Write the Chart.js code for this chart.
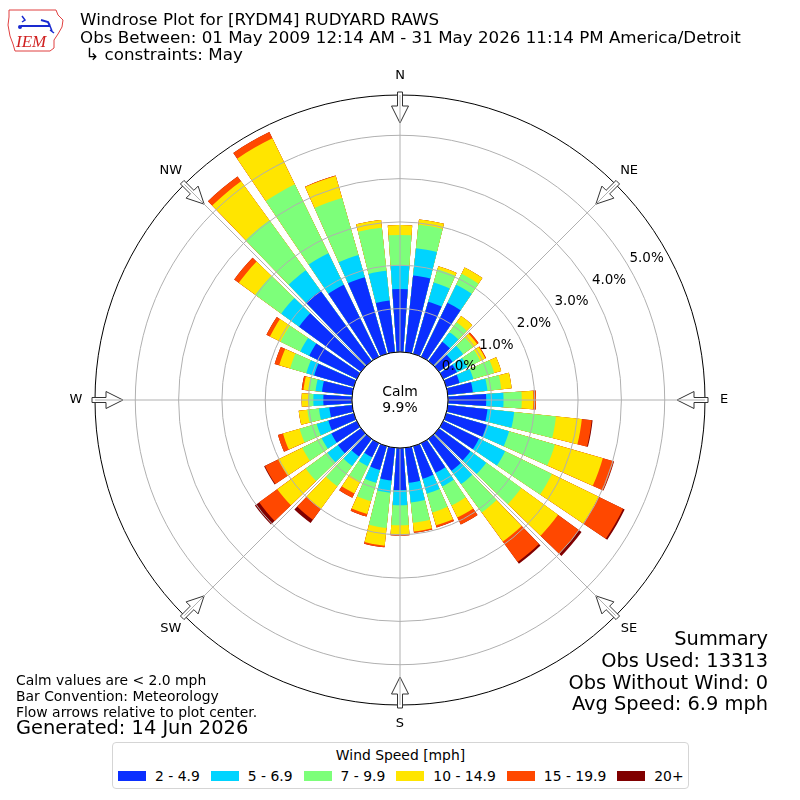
<!DOCTYPE html>
<html>
<head>
<meta charset="utf-8">
<script src="https://cdn.jsdelivr.net/npm/chart.js@4.4.1/dist/chart.umd.min.js"></script>
<style>
  html, body { margin: 0; padding: 0; background: #fff; }
  #wrap { position: relative; width: 800px; height: 800px; font-family: "DejaVu Sans", sans-serif; color: #000; overflow: hidden; }
  #c { position: absolute; left: 0; top: 0; }
  .t { position: absolute; white-space: nowrap; }
  #legend { position: absolute; left: 112px; top: 742px; width: 575px; height: 45px; border: 1px solid #d5d5d5; border-radius: 4px; background: #fff; }
  #legend .lt { text-align: center; font-size: 13.9px; line-height: 16px; margin-top: 4px; white-space: nowrap; }
  #legend .items { display: flex; flex-wrap: nowrap; align-items: center; margin-top: 5px; padding-left: 5px; font-size: 13.9px; line-height: 16px; white-space: nowrap; }
  #legend .it { display: flex; flex: 0 0 auto; align-items: center; margin-right: 11px; white-space: nowrap; }
  #legend .sw { width: 28px; height: 10px; margin-right: 9px; flex: 0 0 auto; }
</style>
</head>
<body>
<div id="wrap">
  <canvas id="c" width="800" height="800"></canvas>

  <svg class="t" style="left:6px;top:7px" width="62" height="46" viewBox="0 0 62 46">
    <path d="M3 3 L50 3 L52 8 L57 13 L56 20 L52 27 L48 33 L48 41 L44 44 L9 44 L7 37 L4 29 L2 18 L3 10 Z" fill="none" stroke="#e04040" stroke-width="1"/>
    <path d="M16 9 L19 13 L16 15" fill="none" stroke="#1a2ad0" stroke-width="1.5"/>
    <line x1="15" y1="19" x2="44" y2="19" stroke="#1a2ad0" stroke-width="2"/>
    <path d="M35 13 L42 15 L44 19" fill="none" stroke="#1a2ad0" stroke-width="2"/>
    <path d="M44 19 L46 24 M44 23 L48 26" fill="none" stroke="#1a2ad0" stroke-width="1.5"/>
    <circle cx="14" cy="20" r="2" fill="#1a2ad0"/>
    <text x="10" y="40" font-family="Liberation Serif, serif" font-style="italic" font-size="17" fill="#d02020">IEM</text>
  </svg>

  <div class="t" style="left:80px;top:11px;font-size:16.7px;line-height:17.6px;">
    Windrose Plot for [RYDM4] RUDYARD RAWS<br>
    Obs Between: 01 May 2009 12:14 AM - 31 May 2026 11:14 PM America/Detroit<br>
    &nbsp;↳ constraints: May
  </div>

  <div class="t" style="left:16px;top:672px;font-size:13.9px;line-height:16px;">
    Calm values are &lt; 2.0 mph<br>
    Bar Convention: Meteorology<br>
    Flow arrows relative to plot center.
  </div>
  <div class="t" style="left:16px;top:717px;font-size:19.4px;line-height:22px;">Generated: 14 Jun 2026</div>

  <div class="t" style="right:32px;top:628px;font-size:19.4px;line-height:21.8px;text-align:right;">
    Summary<br>
    Obs Used: 13313<br>
    Obs Without Wind: 0<br>
    Avg Speed: 6.9 mph
  </div>

  <div id="legend">
    <div class="lt">Wind Speed [mph]</div>
    <div class="items" id="legendItems"></div>
  </div>
</div>

<script>
// ---------------- data ----------------
const directions = [0,10,20,30,40,50,60,70,80,90,100,110,120,130,140,150,160,170,
                    180,190,200,210,220,230,240,250,260,270,280,290,300,310,320,330,340,350];
const speedBins = ['2 - 4.9', '5 - 6.9', '7 - 9.9', '10 - 14.9', '15 - 19.9', '20+'];
const binColors = ['#0b2fff', '#00d4ff', '#7dff7a', '#ffe500', '#ff4800', '#800000'];

// percent of observations per direction, per speed bin
const pct_2_5   = [1.45,1.78,1.25,1.39,0.55,0.39,0.35,0.32,0.58,0.88,0.92,0.97,0.92,0.90,0.91,0.76,0.78,0.81,
                   0.97,0.76,0.57,0.36,0.50,0.66,0.65,0.61,0.53,0.66,0.70,0.95,1.22,1.77,2.01,1.85,1.84,1.20];
const pct_5_7   = [0.54,0.63,0.46,0.46,0.28,0.30,0.27,0.33,0.34,0.40,0.62,0.54,0.67,0.45,0.38,0.35,0.36,0.46,
                   0.35,0.28,0.31,0.23,0.27,0.30,0.25,0.28,0.24,0.23,0.15,0.19,0.23,0.51,0.58,0.81,0.53,0.69];
const pct_7_10  = [0.71,0.55,0.32,0.28,0.28,0.28,0.33,0.50,0.32,0.42,0.97,1.10,1.20,1.00,0.81,0.49,0.45,0.47,
                   0.46,0.82,0.44,0.39,0.58,0.62,0.50,0.41,0.27,0.10,0.17,0.39,0.51,0.74,1.43,1.77,1.37,1.00];
const pct_10_15 = [0.23,0.12,0.07,0.16,0.18,0.12,0.13,0.17,0.24,0.27,0.60,1.15,1.20,1.05,0.83,0.31,0.31,0.20,
                   0.21,0.41,0.31,0.31,0.64,0.81,0.62,0.40,0.20,0.17,0.11,0.26,0.27,0.47,1.11,1.18,0.53,0.18];
const pct_15_20 = [0,0,0,0,0,0.04,0.02,0,0,0.06,0.23,0.26,0.63,0.60,0.58,0.18,0.05,0.03,
                   0.03,0.04,0.06,0.11,0.32,0.52,0.34,0.12,0,0,0.04,0.11,0.09,0.13,0.14,0.16,0.01,0];
const pct_20up  = [0,0,0,0,0,0,0,0,0,0,0.02,0.01,0.04,0.07,0.05,0,0,0,
                   0,0,0,0,0.09,0.12,0.02,0,0,0,0,0,0,0,0,0,0,0];

const radialTicks = [0, 1, 2, 3, 4, 5];
const compassLabels = ['N', 'NE', 'E', 'SE', 'S', 'SW', 'W', 'NW'];
const calmPct = 9.9;

// ---------------- settings ----------------
const R_MIN = -1.11;     // leaves room for the calm circle
const R_MAX = 5.93;
const BAR_DEG = 8;
const GAP_DEG = 2;
const FONT = '"DejaVu Sans", sans-serif';

// ---------------- build ----------------
const series = [pct_2_5, pct_5_7, pct_7_10, pct_10_15, pct_15_20, pct_20up];
const labels = [];
directions.forEach(d => { labels.push(d + '°'); labels.push(''); });

const datasets = series.map((vals, k) => {
  const data = [];
  vals.forEach((v, i) => {
    let cum = 0;
    for (let j = 0; j <= k; j++) cum += series[j][i];
    data.push(cum);
    data.push(0);
  });
  return {
    label: speedBins[k],
    data,
    backgroundColor: ctx => (ctx.dataIndex % 2 === 0 ? binColors[k] : 'rgba(0,0,0,0)'),
    borderWidth: 0,
    angle: ctx => (ctx.dataIndex % 2 === 0 ? BAR_DEG : GAP_DEG)
  };
});

// legend
const li = document.getElementById('legendItems');
speedBins.forEach((b, k) => {
  const it = document.createElement('div');
  it.className = 'it';
  const sw = document.createElement('div');
  sw.className = 'sw';
  sw.style.background = binColors[k];
  const tx = document.createElement('span');
  tx.textContent = b;
  it.appendChild(sw); it.appendChild(tx);
  li.appendChild(it);
});

const decor = {
  id: 'windroseDecor',
  afterDatasetsDraw(chart) {
    const s = chart.scales.r, ctx = chart.ctx;
    const r0 = s.getDistanceFromCenterForValue(0);
    ctx.save();
    ctx.beginPath();
    ctx.arc(s.xCenter, s.yCenter, r0, 0, Math.PI * 2);
    ctx.fillStyle = '#fff';
    ctx.fill();
    ctx.restore();
  },
  afterDraw(chart) {
    const s = chart.scales.r, ctx = chart.ctx;
    const xc = s.xCenter, yc = s.yCenter;
    const r0 = s.getDistanceFromCenterForValue(0);
    const R = s.getDistanceFromCenterForValue(R_MAX);
    ctx.save();

    // outer circle
    ctx.beginPath();
    ctx.arc(xc, yc, R, 0, Math.PI * 2);
    ctx.strokeStyle = '#000';
    ctx.lineWidth = 1;
    ctx.stroke();

    // arrows, spokes, labels
    compassLabels.forEach((lab, i) => {
      const th = i * 45 * Math.PI / 180;
      const ox = Math.sin(th), oy = -Math.cos(th);
      const nx = Math.cos(th), ny = Math.sin(th);
      const P = (d, v) => [xc + ox * d + nx * v, yc + oy * d + ny * v];
      const pts = [P(R + 3, -2.5), P(R - 11, -2.5), P(R - 11, -8.5), P(R - 28, 0),
                   P(R - 11, 8.5), P(R - 11, 2.5), P(R + 3, 2.5)];
      ctx.beginPath();
      pts.forEach((p, j) => (j ? ctx.lineTo(p[0], p[1]) : ctx.moveTo(p[0], p[1])));
      ctx.closePath();
      ctx.fillStyle = '#fff';
      ctx.fill();
      ctx.strokeStyle = '#333';
      ctx.lineWidth = 1;
      ctx.stroke();

      ctx.beginPath();
      const a = P(r0, 0), b = P(R, 0);
      ctx.moveTo(a[0], a[1]);
      ctx.lineTo(b[0], b[1]);
      ctx.strokeStyle = '#b0b0b0';
      ctx.lineWidth = 1;
      ctx.stroke();

      const lp = P(R + 19, 0);
      ctx.fillStyle = '#000';
      ctx.font = '13px ' + FONT;
      ctx.textAlign = 'center';
      ctx.textBaseline = 'middle';
      ctx.fillText(lab, lp[0], lp[1]);
    });

    // calm circle edge
    ctx.beginPath();
    ctx.arc(xc, yc, r0, 0, Math.PI * 2);
    ctx.strokeStyle = '#000';
    ctx.lineWidth = 1;
    ctx.stroke();

    // radial tick labels at bearing 60 deg
    const tb = 60 * Math.PI / 180;
    ctx.font = '13.5px ' + FONT;
    ctx.fillStyle = '#000';
    ctx.textAlign = 'center';
    ctx.textBaseline = 'middle';
    radialTicks.forEach(v => {
      const r = s.getDistanceFromCenterForValue(v) + 20;
      ctx.fillText(v.toFixed(1) + '%', xc + Math.sin(tb) * r, yc - Math.cos(tb) * r + 1);
    });

    // calm text
    ctx.font = '13.9px ' + FONT;
    ctx.fillText('Calm', xc, yc - 8);
    ctx.fillText(calmPct.toFixed(1) + '%', xc, yc + 8);
    ctx.restore();
  }
};

new Chart(document.getElementById('c'), {
  type: 'polarArea',
  data: { labels, datasets },
  options: {
    responsive: false,
    animation: false,
    layout: { padding: 95 },
    plugins: { legend: { display: false }, tooltip: { enabled: false } },
    scales: {
      r: {
        min: R_MIN,
        max: R_MAX,
        startAngle: -BAR_DEG / 2,
        afterBuildTicks: sc => { sc.ticks = radialTicks.map(v => ({ value: v })); },
        ticks: { display: false },
        grid: { circular: true, color: '#b0b0b0', lineWidth: 1, z: 1 },
        angleLines: { display: false },
        pointLabels: { display: false }
      }
    }
  },
  plugins: [decor]
});
</script>
</body>
</html>
